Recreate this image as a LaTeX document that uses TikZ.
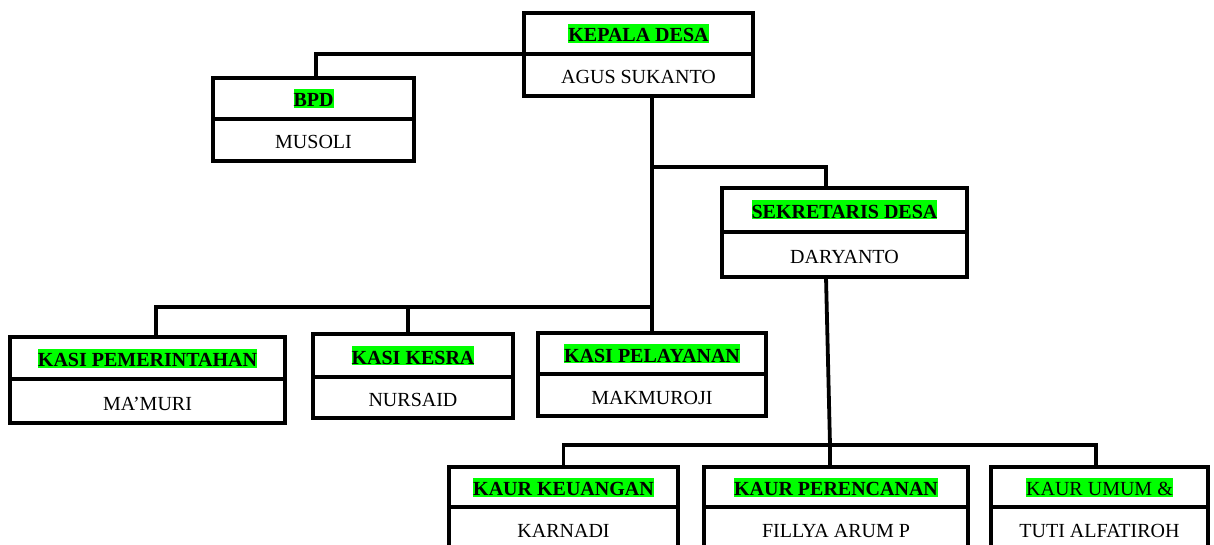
\documentclass[tikz,border=0pt]{standalone}
\usepackage{fontspec}
\setmainfont{Liberation Serif}
\definecolor{hl}{HTML}{00FF00}
\newcommand\hlt[1]{{\setlength\fboxsep{0pt}\colorbox{hl}{\rule[-1pt]{0pt}{19pt}#1}}}
% name, left, top, divider, bottom, right, title, person
\newcommand\orgbox[8]{%
  \node[sec, ttl, minimum width={(#6-#2)*1pt}, minimum height={(#4-#3)*1pt}] (#1T) at ({(#2+#6)/2},{(#3+#4)/2}) {#7};
  \node[sec, nm, minimum width={(#6-#2)*1pt}, minimum height={(#5-#4)*1pt}] (#1B) at ({(#2+#6)/2},{(#4+#5)/2}) {#8};
}
\begin{document}
\begin{tikzpicture}[x=1pt,y=-1pt,
  sec/.style={draw, rectangle, fill=white, inner sep=0pt, outer sep=0pt, line width=3.8pt},
  ttl/.style={font=\fontsize{20}{22}\selectfont\bfseries},
  nm/.style={font=\fontsize{20}{22}\selectfont, text height=18pt, text depth=0pt},
  conn/.style={draw=black, line width=3.8pt}]
\useasboundingbox (0,0) rectangle (1214,545);
\clip (0,0) rectangle (1214,545);
\fill[white] (0,0) rectangle (1214,545);

\orgbox{kep}{524}{13}{54}{96}{753}{\hlt{KEPALA DESA}}{AGUS SUKANTO}
\orgbox{bpd}{213}{78}{119}{161}{414}{\hlt{BPD}}{MUSOLI}
\orgbox{sek}{722}{188}{232}{277}{967}{\hlt{SEKRETARIS DESA}}{DARYANTO}
\orgbox{pem}{10}{337}{379}{423}{285}{\hlt{KASI PEMERINTAHAN}}{MA’MURI}
\orgbox{kes}{313}{334}{377}{418}{513}{\hlt{KASI KESRA}}{NURSAID}
\orgbox{pel}{538}{333}{374}{416}{766}{\hlt{KASI PELAYANAN}}{MAKMUROJI}
\orgbox{keu}{449}{467}{507}{549}{678}{\hlt{KAUR KEUANGAN}}{KARNADI}
\orgbox{per}{704}{467}{507}{549}{968}{\hlt{KAUR PERENCANAN}}{FILLYA ARUM P}
\orgbox{umu}{991}{467}{507}{549}{1208}{\mdseries\hlt{KAUR UMUM \&}}{TUTI ALFATIROH}

\coordinate (j1) at (653,167);
\coordinate (j3) at (653,307);
\coordinate (j2) at (830,445);

\draw[conn] ([xshift=2.5pt]bpdT.north) |- (kepT.south west);
\draw[conn] (kepB.south -| pelT.north) -- (pelT.north);
\draw[conn] (j1) -| ([xshift=-18.5pt]sekT.north);
\draw[conn] ([xshift=8.5pt]pemT.north) |- (j3);
\draw[conn] ([xshift=-5pt]kesT.north) -- ([xshift=-5pt]kesT.north |- j3);
\draw[conn] ([xshift=-18.5pt]sekB.south) -- (j2);
\draw[conn] (keuT.north) |- (j2) -| ([xshift=-3.5pt]umuT.north);
\draw[conn] (j2) -- ([xshift=-6pt]perT.north);
\end{tikzpicture}
\end{document}
